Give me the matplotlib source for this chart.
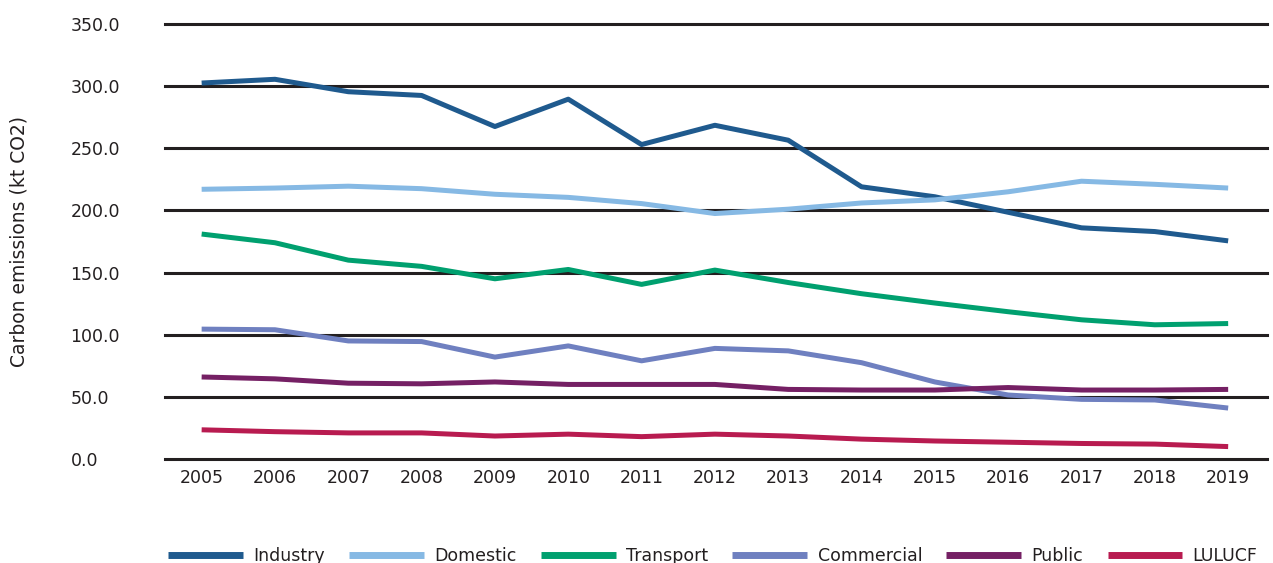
import numpy as np
import matplotlib.pyplot as plt

years = list(range(2005, 2020))

industry = [302.5, 305.5, 295.5, 292.5, 267.5, 289.5, 253, 268.5, 256.5, 219, 211, 198.5, 186, 183, 175.5]
domestic = [217, 218, 219.5, 217.5, 213, 210.5, 205.5, 197.5, 201, 206, 208.5, 215, 223.5, 221, 218]
transport = [181, 174, 160, 155, 145, 152.5, 140.5, 152, 142, 133, 125.5, 118.5, 112, 108, 109]
commercial = [104.5, 104, 95, 94.5, 82, 91, 79, 89, 87, 77.5, 62, 51.5, 48, 47.5, 41]
public = [66, 64.5, 61, 60.5, 62, 60, 60, 60, 56, 55.5, 55.5, 57.5, 55.5, 55.5, 56]
lulucf = [23.5, 22, 21, 21, 18.5, 20, 18, 20, 18.5, 16, 14.5, 13.5, 12.5, 12, 10]

names = ['Industry', 'Domestic', 'Transport', 'Commercial', 'Public', 'LULUCF']
colors = ['#1f5a8e', '#86b9e4', '#00a06f', '#6f80c0', '#752064', '#b81b50']
series = [industry, domestic, transport, commercial, public, lulucf]

plt.rcParams['font.family'] = ['DejaVu Sans']
txt = '#231f20'

fig = plt.figure(figsize=(12.73, 5.63), dpi=100)
ax = fig.add_axes([0.1296, 0.1847, 0.8657, 0.7727])

for yv in np.arange(0, 351, 50):
    ax.axhline(yv, color=txt, lw=2.2, zorder=1, clip_on=False)

for s, c, n in zip(series, colors, names):
    ax.plot(years, s, color=c, lw=3.6, label=n, zorder=3, solid_capstyle='butt')

ax.set_xlim(2004.5, 2019.53)
ax.set_ylim(0, 350)
ax.set_xticks(years)
ax.set_yticks(np.arange(0, 351, 50))
ax.set_yticklabels(['{:.1f}'.format(v) for v in np.arange(0, 351, 50)])
for sp in ax.spines.values():
    sp.set_visible(False)
ax.tick_params(length=0, labelsize=12.5, colors=txt)
ax.tick_params(axis='x', pad=7)
for lab in ax.get_yticklabels():
    lab.set_horizontalalignment('left')
ax.tick_params(axis='y', pad=68)
ax.set_ylabel('Carbon emissions (kt CO2)', fontsize=13.5, color=txt)
ax.yaxis.set_label_coords(-0.124, 0.5)

leg = fig.legend(loc='center', bbox_to_anchor=(0.56, 0.012), ncol=6, frameon=False,
                 fontsize=12.5, handlelength=4.3, handletextpad=0.6, columnspacing=1.4,
                 labelcolor=txt)
for h in leg.get_lines():
    h.set_linewidth(5)

fig.savefig('out.png', dpi=100)
